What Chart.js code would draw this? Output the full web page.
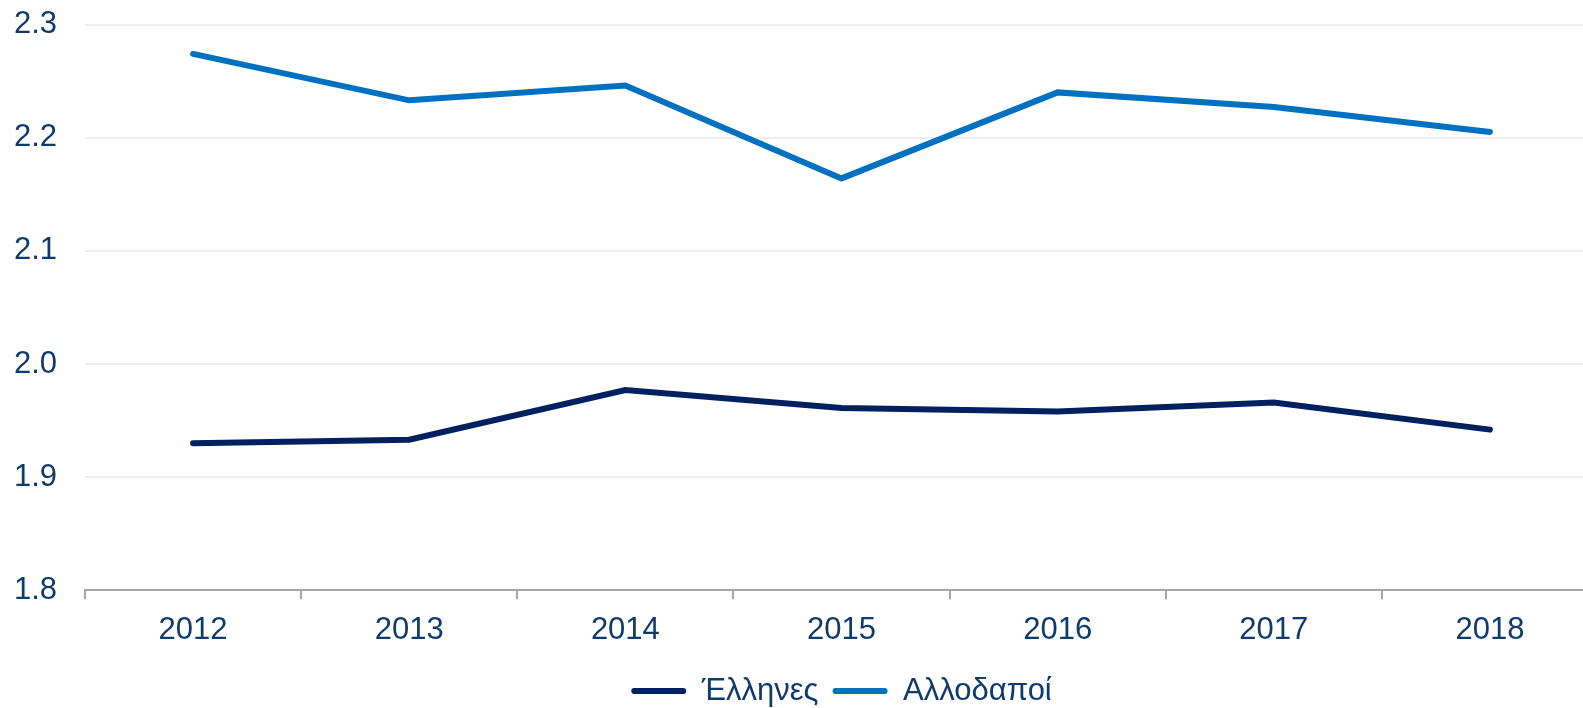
<!DOCTYPE html>
<html>
<head>
<meta charset="utf-8">
<script src="https://cdn.jsdelivr.net/npm/chart.js@4"></script>
<style>
  html, body { margin: 0; padding: 0; background: #fff; overflow: hidden; }
  #wrap { position: relative; width: 1600px; height: 708px; }
</style>
</head>
<body>
<div id="wrap"><canvas id="chart"></canvas></div>
<script>
// --- DADOS ---
const years = ['2012', '2013', '2014', '2015', '2016', '2017', '2018'];
const ellines = [1.930, 1.933, 1.977, 1.961, 1.958, 1.966, 1.942];
const allodapoi = [2.274, 2.233, 2.246, 2.164, 2.240, 2.227, 2.205];
const yTicks = [1.8, 1.9, 2.0, 2.1, 2.2, 2.3];

const textColor = '#0f3a6d';
const fontFamily = '"Liberation Sans", Arial, sans-serif';

new Chart(document.getElementById('chart'), {
    type: 'line',
    data: {
        labels: years,
        datasets: [{
            label: 'Έλληνες',
            data: ellines,
            borderColor: '#002060',
            backgroundColor: '#002060',
            borderWidth: 6,
            borderCapStyle: 'round',
            pointRadius: 0,
            tension: 0
        }, {
            label: 'Αλλοδαποί',
            data: allodapoi,
            borderColor: '#0070c0',
            backgroundColor: '#0070c0',
            borderWidth: 6,
            borderCapStyle: 'round',
            pointRadius: 0,
            tension: 0
        }]
    },
    options: {
        responsive: true,
        maintainAspectRatio: false,
        animation: false,
        layout: { padding: { left: 14, right: 2, top: 0, bottom: -8.5 } },
        scales: {
            x: {
                offset: true,
                grid: {
                    offset: true,
                    drawOnChartArea: false,
                    drawTicks: true,
                    tickLength: 9,
                    color: '#a6a6a6',
                    lineWidth: 2
                },
                border: { color: '#a6a6a6', width: 2 },
                ticks: {
                    color: textColor,
                    font: { family: fontFamily, size: 31 },
                    padding: 12.5,
                    maxRotation: 0
                }
            },
            y: {
                min: 1.8,
                max: 2.3,
                afterBuildTicks: (scale) => { scale.ticks = yTicks.map(v => ({ value: v })); },
                afterFit: (scale) => {
                    scale.width = 71;
                    scale.paddingTop = 24.5;
                    scale.paddingBottom = 0;
                },
                grid: { color: '#eeeeee', lineWidth: 2, drawTicks: false },
                border: { display: false },
                ticks: {
                    color: textColor,
                    font: { family: fontFamily, size: 31 },
                    padding: 28,
                    callback: (v) => Number(v).toFixed(1)
                }
            }
        },
        plugins: {
            legend: {
                position: 'bottom',
                fullSize: false,
                labels: {
                    color: textColor,
                    font: { family: fontFamily, size: 31 },
                    boxWidth: 55,
                    boxHeight: 6,
                    padding: 14,
                    generateLabels: (chart) => Chart.defaults.plugins.legend.labels.generateLabels(chart)
                        .map(item => ({ ...item, lineWidth: 0, borderRadius: 3 }))
                }
            },
            tooltip: { enabled: false }
        }
    }
});
</script>
</body>
</html>
